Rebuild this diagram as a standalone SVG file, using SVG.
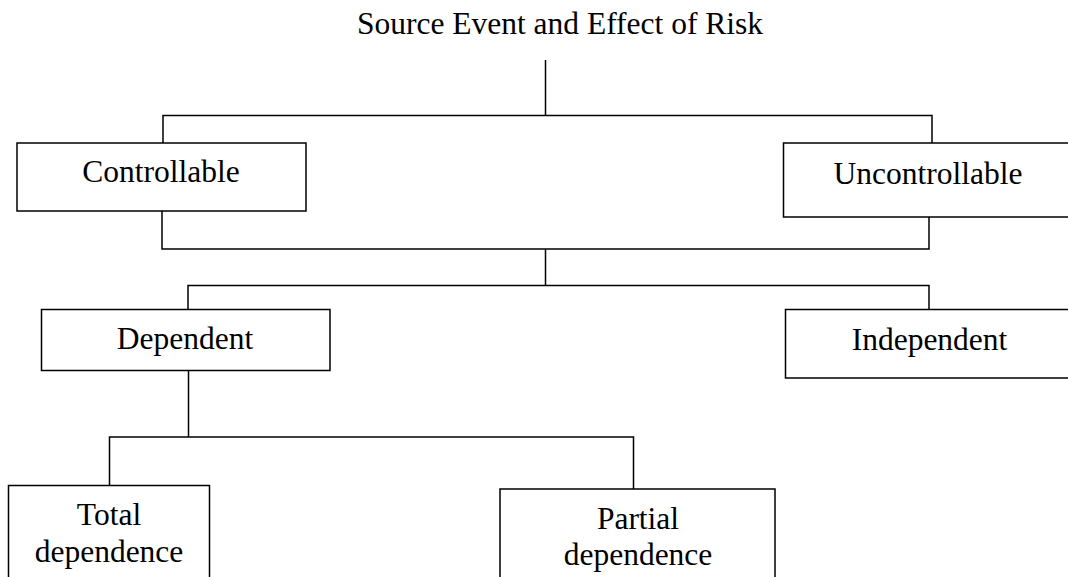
<svg xmlns="http://www.w3.org/2000/svg" width="1068" height="577" viewBox="0 0 1068 577">
  <style>
    .box { fill: #ffffff; stroke: #000000; stroke-width: 1.5; }
    .link { fill: none; stroke: #000000; stroke-width: 1.5; }
    .label { font-family: "Liberation Serif", "Times New Roman", serif; font-size: 31.5px; fill: #000000; text-anchor: middle; }
  </style>
  <rect width="1068" height="577" fill="#ffffff"/>

  <g id="title">
    <text class="label" x="560" y="34">Source Event and Effect of Risk</text>
  </g>

  <g id="connectors">
    <path class="link" d="M545.5 60 V115.5"/>
    <path class="link" d="M163 143 V115.5 H932 V143"/>
    <path class="link" d="M162 211 V249 H929 V217"/>
    <path class="link" d="M545.5 249 V285.5"/>
    <path class="link" d="M188 309.5 V285.5 H929 V309.5"/>
    <path class="link" d="M188.5 370.5 V437"/>
    <path class="link" d="M109.5 485.5 V437 H633.5 V489"/>
  </g>

  <g id="controllable">
    <rect class="box" x="17" y="143" width="289" height="68"/>
    <text class="label" x="161" y="182">Controllable</text>
  </g>

  <g id="uncontrollable">
    <rect class="box" x="783.5" y="143" width="300" height="74"/>
    <text class="label" x="928" y="183.5">Uncontrollable</text>
  </g>

  <g id="dependent">
    <rect class="box" x="41.5" y="309.5" width="288.5" height="61"/>
    <text class="label" x="185" y="348.5">Dependent</text>
  </g>

  <g id="independent">
    <rect class="box" x="785.5" y="309.5" width="300" height="68.5"/>
    <text class="label" x="929.5" y="350">Independent</text>
  </g>

  <g id="total-dependence">
    <rect class="box" x="8.5" y="485.5" width="201" height="110"/>
    <text class="label" x="109" y="524.5">Total</text>
    <text class="label" x="109" y="561.5">dependence</text>
  </g>

  <g id="partial-dependence">
    <rect class="box" x="500" y="489" width="275" height="110"/>
    <text class="label" x="638" y="528.5">Partial</text>
    <text class="label" x="638" y="564.5">dependence</text>
  </g>
</svg>
